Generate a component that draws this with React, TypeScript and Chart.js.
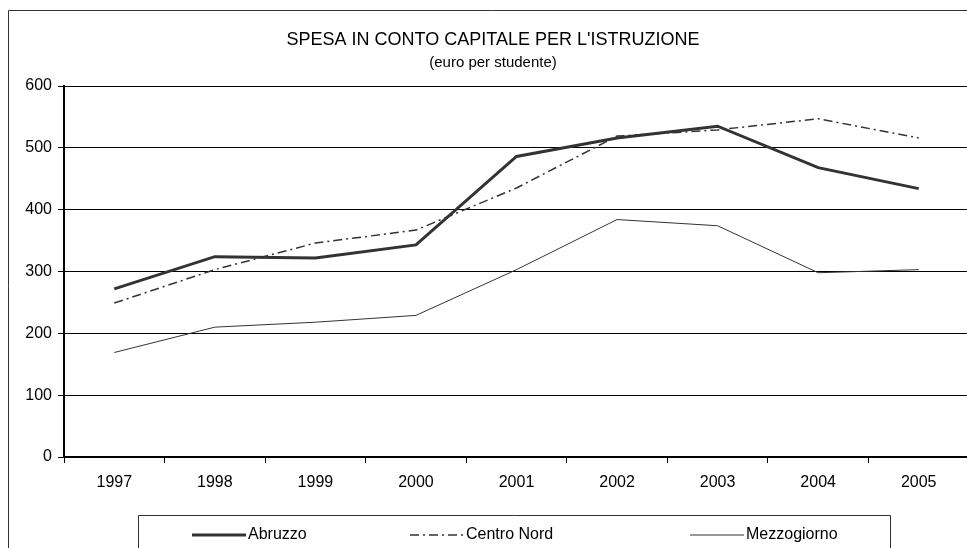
import React, { useEffect, useRef } from "react";
import { Chart, registerables } from "chart.js";

Chart.register(...registerables);

const years = ["1997", "1998", "1999", "2000", "2001", "2002", "2003", "2004", "2005"];
const abruzzo = [272, 324, 322, 343, 486, 516, 535, 468, 434];
const centroNord = [249, 303, 346, 367, 435, 519, 529, 547, 516];
const mezzogiorno = [169, 210, 218, 229, 303, 384, 374, 298, 303];
const seriesNames = ["Abruzzo", "Centro Nord", "Mezzogiorno"];
const titleText = "SPESA IN CONTO CAPITALE PER L'ISTRUZIONE";
const subtitleText = "(euro per studente)";

const FONT = '"Liberation Sans", Arial, sans-serif';

const decorPlugin = {
  id: "decor",
  afterDraw(chart: any) {
    const ctx = chart.ctx as CanvasRenderingContext2D;
    ctx.save();
    // outer frame
    ctx.strokeStyle = "#333";
    ctx.lineWidth = 1;
    ctx.beginPath();
    ctx.moveTo(8.5, 700);
    ctx.lineTo(8.5, 10.5);
    ctx.lineTo(2000, 10.5);
    ctx.stroke();
    // title
    ctx.fillStyle = "#000";
    ctx.textAlign = "center";
    ctx.textBaseline = "middle";
    ctx.font = `18px ${FONT}`;
    ctx.fillText(titleText, 493, 40);
    ctx.font = `15px ${FONT}`;
    ctx.fillText(subtitleText, 493, 63);
    // legend box
    ctx.strokeStyle = "#333";
    ctx.lineWidth = 1;
    ctx.beginPath();
    ctx.moveTo(138.5, 700);
    ctx.lineTo(138.5, 515.5);
    ctx.lineTo(890.5, 515.5);
    ctx.lineTo(890.5, 700);
    ctx.stroke();
    const starts = [192, 410, 690];
    const sampleLen = 54;
    const ly = 535;
    chart.data.datasets.forEach((ds: any, i: number) => {
      ctx.save();
      ctx.strokeStyle = ds.borderColor;
      ctx.lineWidth = ds.borderWidth;
      ctx.setLineDash(ds.borderDash || []);
      ctx.beginPath();
      ctx.moveTo(starts[i], ly);
      ctx.lineTo(starts[i] + sampleLen, ly);
      ctx.stroke();
      ctx.restore();
      ctx.fillStyle = "#000";
      ctx.textAlign = "left";
      ctx.textBaseline = "middle";
      ctx.font = `16px ${FONT}`;
      ctx.fillText(ds.label, starts[i] + sampleLen + 2, ly);
    });
    ctx.restore();
  },
};

export default function App() {
  const ref = useRef<HTMLCanvasElement>(null);
  useEffect(() => {
    if (!ref.current) return;
    const chart = new Chart(ref.current, {
      type: "line",
      data: {
        labels: years,
        datasets: [
          {
            label: seriesNames[0],
            data: abruzzo,
            borderColor: "#333333",
            borderWidth: 3,
            pointRadius: 0,
            tension: 0,
          },
          {
            label: seriesNames[1],
            data: centroNord,
            borderColor: "#333333",
            borderWidth: 1.5,
            borderDash: [9, 4, 2, 4],
            pointRadius: 0,
            tension: 0,
          },
          {
            label: seriesNames[2],
            data: mezzogiorno,
            borderColor: "#333333",
            borderWidth: 1,
            pointRadius: 0,
            tension: 0,
          },
        ],
      },
      options: {
        responsive: false,
        animation: false,
        layout: { padding: { top: 86, right: 6, left: 0, bottom: 0 } },
        plugins: { legend: { display: false }, title: { display: false }, tooltip: { enabled: false } },
        scales: {
          x: {
            offset: true,
            grid: { display: true, offset: true, drawOnChartArea: false, color: "#000", tickLength: 6 },
            border: { color: "#000", width: 2 },
            ticks: { color: "#000", font: { family: FONT, size: 16 }, padding: 10, maxRotation: 0 },
            afterFit(scale: any) {
              scale.height = 560 - 457;
            },
          },
          y: {
            min: 0,
            max: 600,
            ticks: { stepSize: 100, color: "#000", font: { family: FONT, size: 16 }, padding: 6 },
            grid: { color: "#000", lineWidth: 1, tickLength: 6 },
            border: { color: "#000", width: 2 },
            afterFit(scale: any) {
              scale.width = 64;
            },
          },
        },
      },
      plugins: [decorPlugin],
    });
    return () => chart.destroy();
  }, []);
  return (
    <div style={{ position: "fixed", left: 0, top: 0, width: 967, height: 548, overflow: "hidden", background: "#fff" }}>
      <canvas ref={ref} width={975} height={560} style={{ display: "block" }} />
    </div>
  );
}
